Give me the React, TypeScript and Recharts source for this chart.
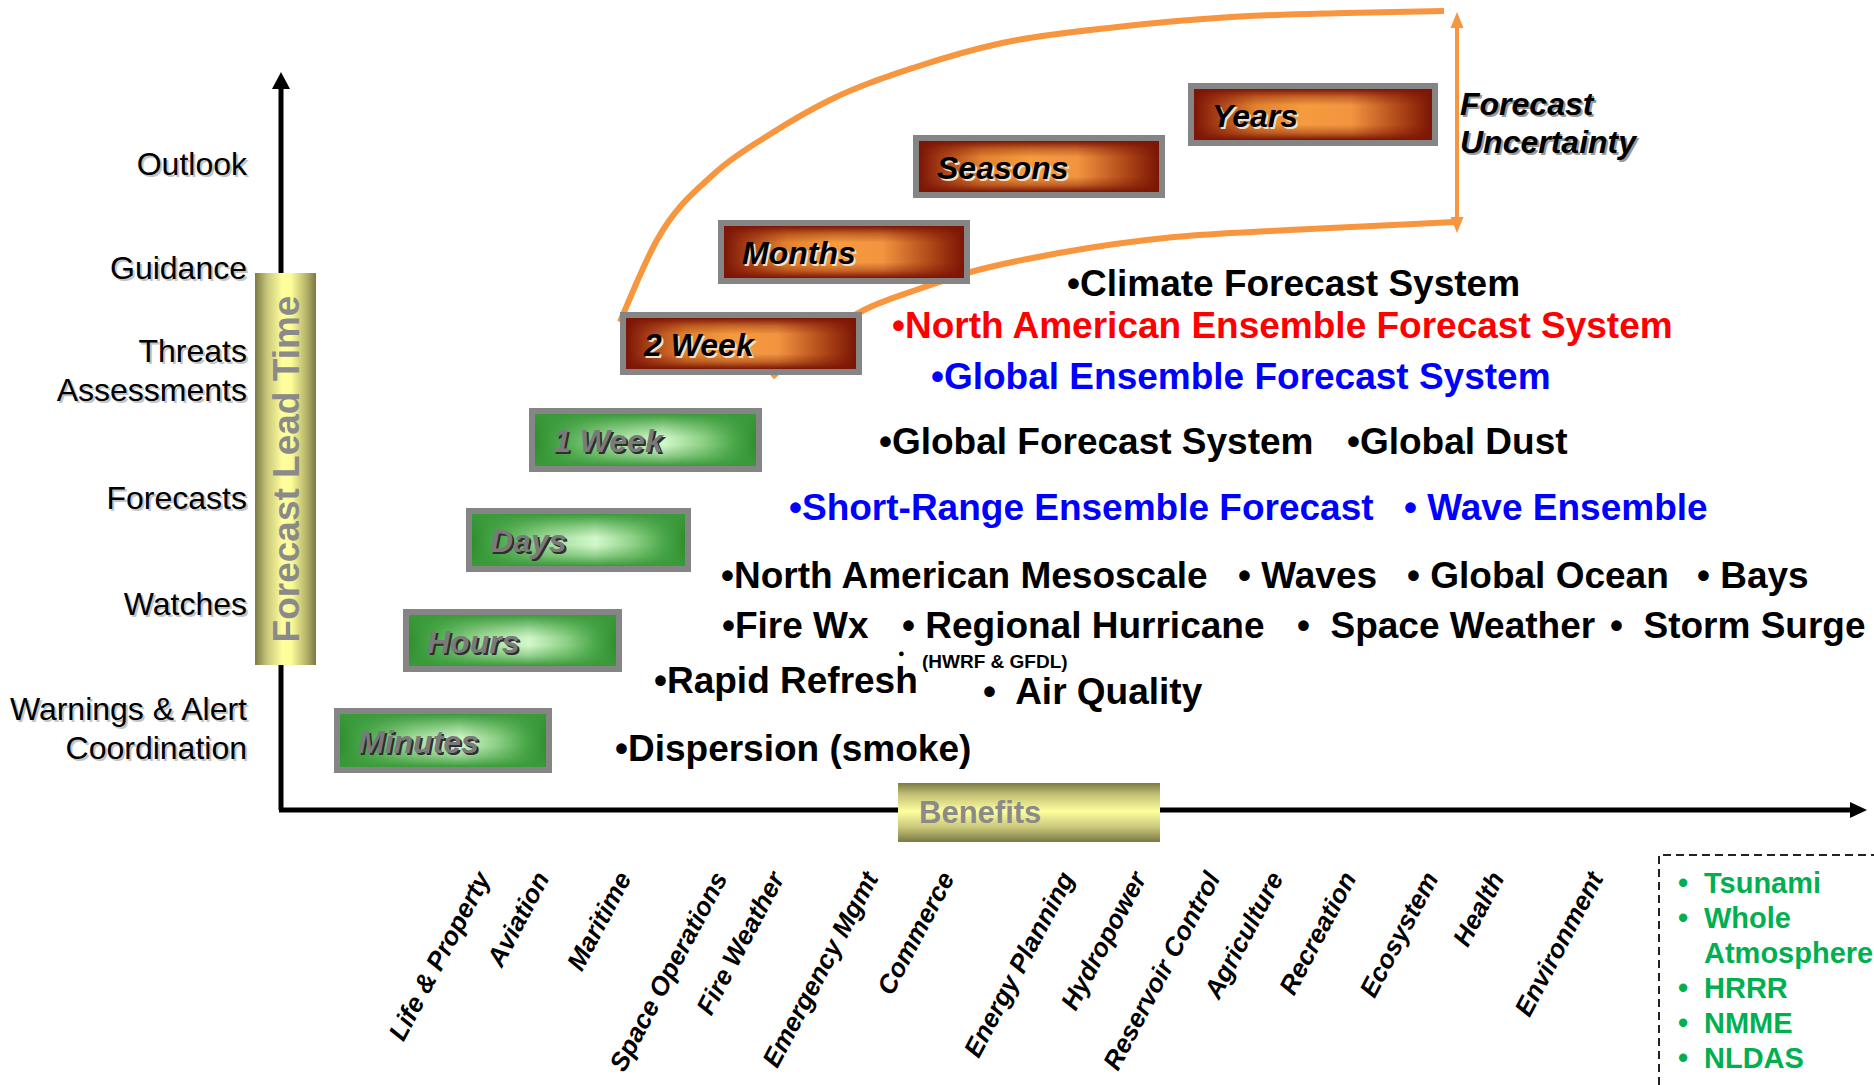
import React from 'react';
import { ComposedChart, XAxis, YAxis, Line, Scatter, ReferenceArea, ReferenceLine } from 'recharts';

const FONT = '"Liberation Sans", Arial, Helvetica, sans-serif';
const ORANGE = '#F7963E';

// vertical axis: lead time (units above the benefits axis)
const leadTimeLabels = ['Warnings & Alert\nCoordination', 'Watches', 'Forecasts', 'Threats\nAssessments', 'Guidance', 'Outlook'];
const leadTimeTicks = [82, 206, 312, 440, 542, 646];

// horizontal axis: benefits
const benefitLabels = [
  'Life & Property', 'Aviation', 'Maritime', 'Space Operations', 'Fire Weather', 'Emergency Mgmt', 'Commerce',
  'Energy Planning', 'Hydropower', 'Reservoir Control', 'Agriculture', 'Recreation', 'Ecosystem', 'Health', 'Environment',
];
const benefitTicks = [210, 269, 351, 447, 504, 598, 674, 794, 866, 940, 1003, 1076, 1158, 1224, 1323];

// forecast ranges
const rangeNames = ['Minutes', 'Hours', 'Days', '1 Week', '2 Week', 'Months', 'Seasons', 'Years'];
const rangeKind = ['short', 'short', 'short', 'short', 'long', 'long', 'long', 'long'];
const rangeBenefitFrom = [53, 122, 185, 248, 339, 437, 632, 907];
const rangeBenefitTo = [271, 341, 410, 481, 581, 689, 884, 1157];
const rangeLeadFrom = [37, 138, 238, 338, 435, 526, 612, 664];
const rangeLeadTo = [102, 201, 302, 402, 498, 590, 675, 727];

// forecast uncertainty envelope
const upperUncertainty = [
  { x: 339, y: 488 }, { x: 376, y: 570 }, { x: 434, y: 637 }, { x: 491, y: 677 }, { x: 549, y: 710 },
  { x: 635, y: 743 }, { x: 721, y: 767 }, { x: 836, y: 783 }, { x: 950, y: 793 }, { x: 1065, y: 797 }, { x: 1163, y: 799 },
];
const lowerUncertainty = [
  { x: 491, y: 433 }, { x: 583, y: 500 }, { x: 635, y: 520 }, { x: 686, y: 537 }, { x: 778, y: 557 },
  { x: 893, y: 573 }, { x: 1008, y: 580 }, { x: 1174, y: 588 },
];
const uncertaintySpan = [{ x: 1176, y: 577 }, { x: 1176, y: 798 }];
const uncertaintyText = [{ name: 'Forecast', x: 1179, y: 695 }, { name: 'Uncertainty', x: 1179, y: 657 }];

// modelling systems
const systems = [
  { name: '•Climate Forecast System', x: 786, y: 514, kind: 'model' },
  { name: '•North American Ensemble Forecast System', x: 611, y: 472, kind: 'naefs' },
  { name: '•Global Ensemble Forecast System', x: 650, y: 421, kind: 'ensemble' },
  { name: '•Global Forecast System', x: 598, y: 356, kind: 'model' },
  { name: '•Global Dust', x: 1066, y: 356, kind: 'model' },
  { name: '•Short-Range Ensemble Forecast', x: 508, y: 290, kind: 'ensemble' },
  { name: '• Wave Ensemble', x: 1123, y: 290, kind: 'ensemble' },
  { name: '•North American Mesoscale', x: 440, y: 222, kind: 'model' },
  { name: '• Waves', x: 957, y: 222, kind: 'model' },
  { name: '• Global Ocean', x: 1126, y: 222, kind: 'model' },
  { name: '• Bays', x: 1416, y: 222, kind: 'model' },
  { name: '•Fire Wx', x: 441, y: 172, kind: 'model' },
  { name: '• Regional Hurricane', x: 621, y: 172, kind: 'model' },
  { name: '•  Space Weather', x: 1016, y: 172, kind: 'model' },
  { name: '•  Storm Surge', x: 1329, y: 172, kind: 'model' },
  { name: '•Rapid Refresh', x: 373, y: 117, kind: 'model' },
  { name: '●', x: 617, y: 153.5, kind: 'dot' },
  { name: '(HWRF & GFDL)', x: 641, y: 142, kind: 'note' },
  { name: '•  Air Quality', x: 702, y: 106, kind: 'model' },
  { name: '•Dispersion (smoke)', x: 334, y: 49, kind: 'model' },
];

const legendItems = ['Tsunami', 'Whole\nAtmosphere', 'HRRR', 'NMME', 'NLDAS'];

const kindColor: Record<string, string> = { model: '#000000', naefs: '#FF0000', ensemble: '#0000FF', note: '#000000', dot: '#000000' };
const kindSize: Record<string, number> = { model: 37, naefs: 37, ensemble: 37, note: 19, dot: 11 };

const LeadTick = ({ x, y, payload }: any) => {
  const idx = leadTimeTicks.indexOf(payload.value);
  const lines = (leadTimeLabels[idx] || '').split('\n');
  const top = y - ((lines.length - 1) * 39) / 2 + 11;
  return (
    <g>
      {lines.map((t, i) => (
        <g key={i}>
          <text x={x + 2} y={top + i * 39 + 2} textAnchor="end" fontSize={32} fontFamily={FONT} fill="#c4c4c4">{t}</text>
          <text x={x} y={top + i * 39} textAnchor="end" fontSize={32} fontFamily={FONT} fill="#000">{t}</text>
        </g>
      ))}
    </g>
  );
};

const BenefitTick = ({ x, y, payload }: any) => {
  const idx = benefitTicks.indexOf(payload.value);
  return (
    <text x={x} y={y} transform={`rotate(-62 ${x} ${y})`} textAnchor="end" fontSize={26} fontWeight="bold"
      fontStyle="italic" fontFamily={FONT} fill="#000">
      {benefitLabels[idx]}
    </text>
  );
};

const RangeBox = (p: any) => {
  const { x, y, width, height, name, kind } = p;
  const green = kind === 'short';
  const b = 6;
  const ty = y + height / 2 + 12;
  return (
    <g>
      <rect x={x} y={y} width={width} height={height} fill="#858585" />
      <rect x={x + b} y={y + b} width={width - 2 * b} height={height - 2 * b} fill={green ? 'url(#greenH)' : 'url(#orangeH)'} />
      <rect x={x + b} y={y + b} width={width - 2 * b} height={height - 2 * b} fill={green ? 'url(#greenV)' : 'url(#orangeV)'} />
      <text x={x + 26} y={ty + 2} fontSize={32} fontWeight="bold" fontStyle="italic" fontFamily={FONT}
        fill={green ? '#2e2e2e' : '#efe2d2'}>{name}</text>
      <text x={x + 24} y={ty} fontSize={32} fontWeight="bold" fontStyle="italic" fontFamily={FONT}
        fill={green ? '#7a7a7a' : '#000'}>{name}</text>
    </g>
  );
};

const LeadBar = (p: any) => {
  const { x, y, width, height } = p;
  const cx = x + width / 2 + 13;
  const cy = y + height / 2;
  return (
    <g>
      <rect x={x} y={y} width={width} height={height} fill="url(#yellowH)" />
      <text x={cx} y={cy} transform={`rotate(-90 ${cx} ${cy})`} textAnchor="middle" fontSize={37}
        fontWeight="bold" fontFamily={FONT} fill="#8a8a8a">Forecast Lead Time</text>
    </g>
  );
};

const BenefitsBar = (p: any) => {
  const { x, y, width, height } = p;
  return (
    <g>
      <rect x={x} y={y} width={width} height={height} fill="url(#yellowV)" />
      <text x={x + 21} y={y + 40} fontSize={31} fontWeight="bold" fontFamily={FONT} fill="#8a8a8a">Benefits</text>
    </g>
  );
};

const LegendBox = (p: any) => {
  const { x, y, width, height } = p;
  const rows: React.ReactNode[] = [];
  let line = 0;
  legendItems.forEach((item, i) => {
    item.split('\n').forEach((t, j) => {
      const by = y + 38 + line * 35;
      if (j === 0) {
        rows.push(<text key={`b${i}`} x={x + 19} y={by} fontSize={29} fontWeight="bold" fontFamily={FONT} fill="#00B050">•</text>);
      }
      rows.push(<text key={`t${i}-${j}`} x={x + 45} y={by} fontSize={29} fontWeight="bold" fontFamily={FONT} fill="#00B050">{t}</text>);
      line++;
    });
  });
  return (
    <g>
      <path d={`M${x} ${y + height} V${y} H${x + width}`} stroke="#222" strokeWidth={2} strokeDasharray="8 5" fill="none" />
      {rows}
    </g>
  );
};

const arrowShape = (color: string, w: number, headLen: number, headW: number, head2 = false, head1 = true) => (p: any) => {
  const { x1, y1, x2, y2 } = p;
  const len = Math.hypot(x2 - x1, y2 - y1) || 1;
  const ux = (x2 - x1) / len;
  const uy = (y2 - y1) / len;
  const head = (tx: number, ty: number, dx: number, dy: number) => {
    const bx = tx - dx * headLen;
    const by = ty - dy * headLen;
    return `${tx},${ty} ${bx - dy * headW / 2},${by + dx * headW / 2} ${bx + dy * headW / 2},${by - dx * headW / 2}`;
  };
  const sx = head2 ? x1 + ux * headLen * 0.8 : x1;
  const sy = head2 ? y1 + uy * headLen * 0.8 : y1;
  const ex = head1 ? x2 - ux * headLen * 0.8 : x2;
  const ey = head1 ? y2 - uy * headLen * 0.8 : y2;
  return (
    <g>
      <line x1={sx} y1={sy} x2={ex} y2={ey} stroke={color} strokeWidth={w} />
      {head1 && <polygon points={head(x2, y2, ux, uy)} fill={color} />}
      {head2 && <polygon points={head(x1, y1, -ux, -uy)} fill={color} />}
    </g>
  );
};

const SystemLabel = (p: any) => {
  const { cx, cy, payload } = p;
  return (
    <text x={cx} y={cy} fill={kindColor[payload.kind]} fontSize={kindSize[payload.kind]} fontWeight="bold"
      fontFamily={FONT} xmlSpace="preserve" style={{ whiteSpace: 'pre' }}>
      {payload.name}
    </text>
  );
};

const UncertaintyLabel = (p: any) => {
  const { cx, cy, payload } = p;
  return (
    <g>
      <text x={cx + 2} y={cy + 2} fill="#9a9a9a" fontSize={32} fontWeight="bold" fontStyle="italic" fontFamily={FONT}>{payload.name}</text>
      <text x={cx} y={cy} fill="#000" fontSize={32} fontWeight="bold" fontStyle="italic" fontFamily={FONT}>{payload.name}</text>
    </g>
  );
};

export default function App() {
  return (
    <div>
      <style>{'body{margin:0}'}</style>
      <ComposedChart width={1874} height={1085} margin={{ top: 0, right: 7, bottom: 0, left: 0 }}>
        <defs>
          <linearGradient id="orangeH" x1="0" y1="0" x2="1" y2="0">
            <stop offset="0" stopColor="#7b1505" />
            <stop offset="0.08" stopColor="#a03814" />
            <stop offset="0.26" stopColor="#e2822f" />
            <stop offset="0.46" stopColor="#f69b3e" />
            <stop offset="0.66" stopColor="#f29440" />
            <stop offset="0.86" stopColor="#b04818" />
            <stop offset="1" stopColor="#7b1505" />
          </linearGradient>
          <linearGradient id="orangeV" x1="0" y1="0" x2="0" y2="1">
            <stop offset="0" stopColor="#7b1505" stopOpacity={1} />
            <stop offset="0.15" stopColor="#7b1505" stopOpacity={0.4} />
            <stop offset="0.32" stopColor="#7b1505" stopOpacity={0} />
            <stop offset="0.7" stopColor="#7b1505" stopOpacity={0} />
            <stop offset="0.86" stopColor="#7b1505" stopOpacity={0.4} />
            <stop offset="1" stopColor="#7b1505" stopOpacity={1} />
          </linearGradient>
          <linearGradient id="greenH" x1="0" y1="0" x2="1" y2="0">
            <stop offset="0" stopColor="#2f8f2f" />
            <stop offset="0.12" stopColor="#4aa84a" />
            <stop offset="0.36" stopColor="#a2dc9a" />
            <stop offset="0.58" stopColor="#d2f7ca" />
            <stop offset="0.76" stopColor="#8ed086" />
            <stop offset="0.9" stopColor="#4aa84a" />
            <stop offset="1" stopColor="#2f8f2f" />
          </linearGradient>
          <linearGradient id="greenV" x1="0" y1="0" x2="0" y2="1">
            <stop offset="0" stopColor="#3a9a3a" stopOpacity={1} />
            <stop offset="0.25" stopColor="#3a9a3a" stopOpacity={0.4} />
            <stop offset="0.45" stopColor="#3a9a3a" stopOpacity={0} />
            <stop offset="0.6" stopColor="#3a9a3a" stopOpacity={0} />
            <stop offset="0.8" stopColor="#3a9a3a" stopOpacity={0.4} />
            <stop offset="1" stopColor="#3a9a3a" stopOpacity={1} />
          </linearGradient>
          <linearGradient id="yellowH" x1="0" y1="0" x2="1" y2="0">
            <stop offset="0" stopColor="#7c7a46" />
            <stop offset="0.2" stopColor="#c9c77a" />
            <stop offset="0.45" stopColor="#ffff9e" />
            <stop offset="0.6" stopColor="#fbfb98" />
            <stop offset="0.85" stopColor="#b3b168" />
            <stop offset="1" stopColor="#7a7844" />
          </linearGradient>
          <linearGradient id="yellowV" x1="0" y1="0" x2="0" y2="1">
            <stop offset="0" stopColor="#7c7a46" />
            <stop offset="0.2" stopColor="#c4c277" />
            <stop offset="0.48" stopColor="#ffff9e" />
            <stop offset="0.75" stopColor="#c9c77a" />
            <stop offset="1" stopColor="#7a7844" />
          </linearGradient>
        </defs>

        <XAxis type="number" dataKey="x" domain={[0, 1586]} ticks={benefitTicks} interval={0} height={275}
          axisLine={false} tickLine={false} tickSize={0} tickMargin={68} tick={<BenefitTick />} />
        <YAxis type="number" dataKey="y" domain={[0, 810]} ticks={leadTimeTicks} interval={0} width={281}
          axisLine={false} tickLine={false} tickSize={0} tickMargin={34} tick={<LeadTick />} />

        {/* axes drawn as arrows, broken where the yellow title bars sit */}
        <ReferenceLine segment={[{ x: 0, y: 0 }, { x: 0, y: 146 }]} ifOverflow="visible" shape={arrowShape('#000', 5, 17, 18, false, false)} />
        <ReferenceLine segment={[{ x: 0, y: 536 }, { x: 0, y: 738 }]} ifOverflow="visible" shape={arrowShape('#000', 5, 17, 18)} />
        <ReferenceLine segment={[{ x: -2, y: 0 }, { x: 618, y: 0 }]} ifOverflow="visible" shape={arrowShape('#000', 5, 17, 16, false, false)} />
        <ReferenceLine segment={[{ x: 878, y: 0 }, { x: 1586, y: 0 }]} ifOverflow="visible" shape={arrowShape('#000', 5, 17, 16)} />
        <ReferenceLine segment={uncertaintySpan} ifOverflow="visible" shape={arrowShape(ORANGE, 4, 16, 13, true)} />

        <Line data={upperUncertainty} dataKey="y" type="monotone" stroke={ORANGE} strokeWidth={6} dot={false}
          activeDot={false} isAnimationActive={false} />
        <Line data={lowerUncertainty} dataKey="y" type="monotone" stroke={ORANGE} strokeWidth={6} dot={false}
          activeDot={false} isAnimationActive={false} />

        <Scatter data={systems} dataKey="y" shape={SystemLabel} isAnimationActive={false} />
        <Scatter data={uncertaintyText} dataKey="y" shape={UncertaintyLabel} isAnimationActive={false} />

        {rangeNames.map((name, i) => (
          <ReferenceArea key={name} x1={rangeBenefitFrom[i]} x2={rangeBenefitTo[i]} y1={rangeLeadFrom[i]} y2={rangeLeadTo[i]}
            isFront zIndex={1500} ifOverflow="visible" shape={(p: any) => <RangeBox {...p} name={name} kind={rangeKind[i]} />} />
        ))}

        <ReferenceArea x1={-26} x2={35} y1={145} y2={537} isFront zIndex={1500} ifOverflow="visible" shape={LeadBar} />
        <ReferenceArea x1={617} x2={879} y1={-32} y2={27} isFront zIndex={1500} ifOverflow="visible" shape={BenefitsBar} />
        <ReferenceArea x1={1378} x2={1593} y1={-275} y2={-45} isFront zIndex={1500} ifOverflow="visible" shape={LegendBox} />
      </ComposedChart>
    </div>
  );
}
